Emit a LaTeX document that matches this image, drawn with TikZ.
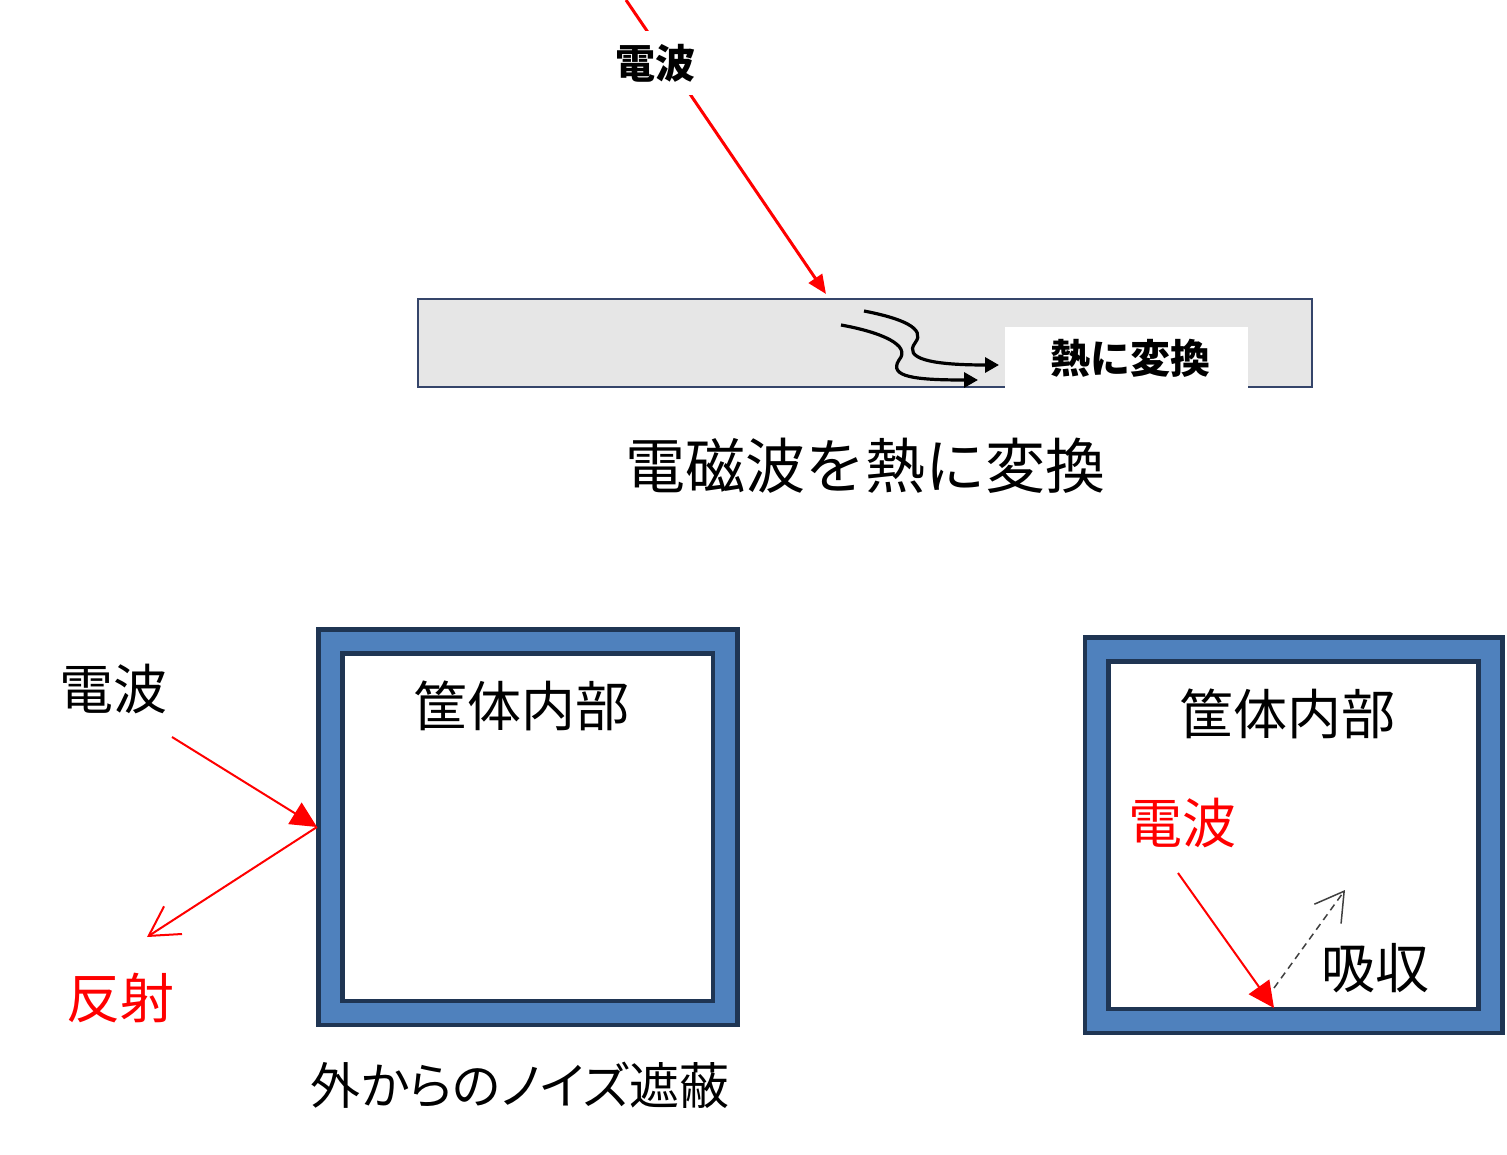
\documentclass[tikz,border=0pt]{standalone}
\usepackage{fontspec}
\newfontfamily\jp{Noto Sans CJK JP}
\usetikzlibrary{arrows.meta}
\definecolor{navy}{HTML}{1F3553}
\definecolor{steel}{HTML}{4F81BD}
\definecolor{barline}{HTML}{35456A}
\definecolor{bargray}{HTML}{E6E6E6}
\definecolor{dashgray}{HTML}{404040}
\tikzset{
  lbl/.style={inner sep=0pt, font=\jp\fontsize{54}{60}\selectfont},
  boldlbl/.style={inner sep=1pt, font=\jp\bfseries\fontsize{40}{46}\selectfont},
  redline/.style={draw=red, line width=2pt},
  filledhead/.style={-{Triangle[length=26pt,width=25pt]}},
  openhead/.style={-{Straight Barb[length=29pt,width=33pt]}},
  outerbox/.style={draw=navy, fill=steel, line width=4.7pt},
  innerbox/.style={draw=navy, fill=white, line width=4.7pt},
  heatcurve/.style={draw=black, line width=3.2pt, -{Triangle[length=14pt,width=15pt]}},
}
\begin{document}
\begin{tikzpicture}[x=1pt,y=-1pt]
\useasboundingbox (0,0) rectangle (1507,1155);

% ---------- top: conversion to heat ----------
\draw[draw=barline, fill=bargray, line width=2.3pt] (418,299) rectangle (1312,387);
\node[fill=white, minimum width=243pt, minimum height=62pt, inner sep=0pt] (heatbox) at (1126.5,358) {};
\node[boldlbl] (heat) at (1130,358) {熱に変換};
\draw[heatcurve] (864,311) .. controls (900,318) and (927,328) .. (915,343) .. controls (904,358) and (928,365) .. (999,365);
\draw[heatcurve] (841,325) .. controls (880,332) and (912,345) .. (899,360) .. controls (888,377) and (915,380) .. (978,380);

\coordinate (topstart) at (626,0);
\coordinate (tophit) at (826,294);
\draw[draw=red, line width=3pt, -{Triangle[length=19pt,width=16pt]}] (topstart) -- (tophit);
\node[boldlbl, fill=white, minimum height=64pt, minimum width=84pt] (topwave) at (655,63) {電波};

\node[lbl, font=\jp\fontsize{60}{66}\selectfont] (cap1) at (865,466) {電磁波を熱に変換};

% ---------- bottom left: shielding ----------
\draw[outerbox] (318.3,629.7) rectangle (737.7,1025);
\draw[innerbox] (342.5,653.5) rectangle (713,1001);
\node[lbl] (inside1) at (521,706) {筐体内部};

\node[lbl] (wave1) at (113,689) {電波};
\node[lbl, text=red] (refl) at (120,998) {反射};
\coordinate (instart) at (172,737);
\coordinate (wallhit) at (317,827);
\coordinate (reflend) at (147,937);
\draw[redline, filledhead] (instart) -- (wallhit);
\draw[redline, openhead] (wallhit) -- (reflend);

\node[lbl, font=\jp\fontsize{50}{56}\selectfont\addfontfeatures{RawFeature=+palt}] (cap2) at (520,1085) {外からのノイズ遮蔽};

% ---------- bottom right: absorption ----------
\draw[outerbox] (1085,637.8) rectangle (1502.5,1033);
\draw[innerbox] (1108.8,661.7) rectangle (1478.3,1009);
\node[lbl] (inside2) at (1287,714) {筐体内部};
\node[lbl, text=red] (wave2) at (1182,823) {電波};
\node[lbl] (absorb) at (1375,968) {吸収};
\coordinate (rstart) at (1178,873);
\coordinate (rhit) at (1274,1008);
\coordinate (dstart) at (1274,988);
\coordinate (dend) at (1345,890);
\draw[redline, filledhead] (rstart) -- (rhit);
\draw[draw=dashgray, line width=1.5pt, dash pattern=on 7pt off 5pt, -{Straight Barb[length=28pt,width=33pt]}] (dstart) -- (dend);
\end{tikzpicture}
\end{document}
